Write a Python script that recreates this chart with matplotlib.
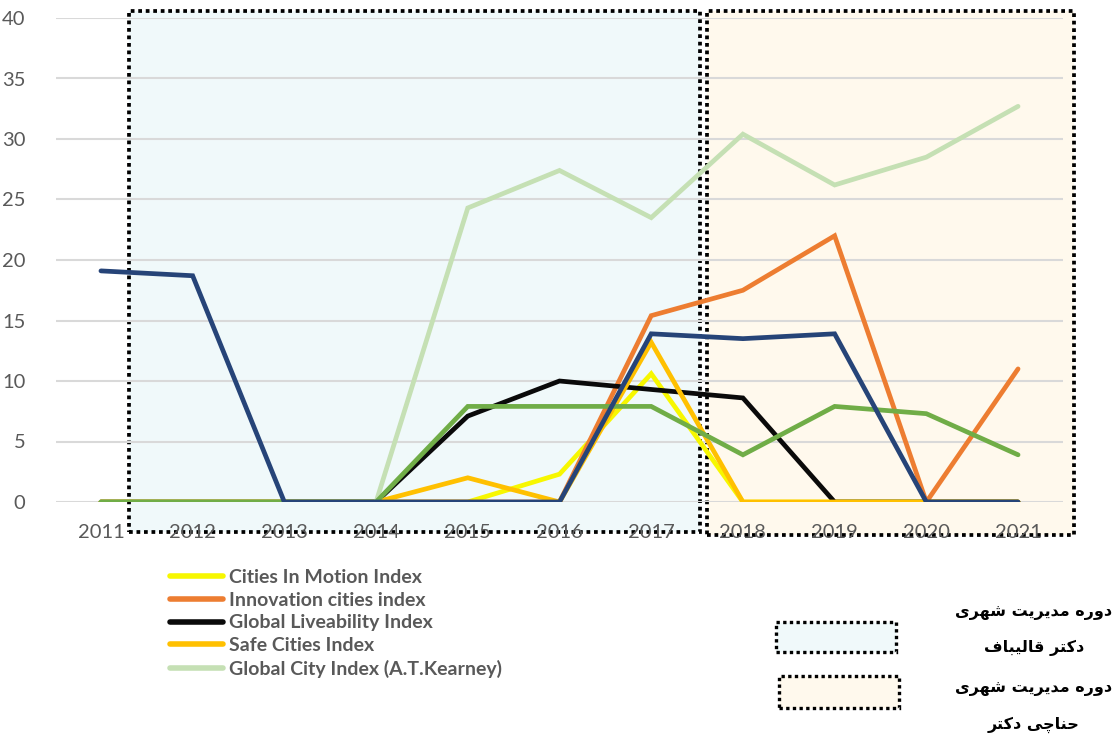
import numpy as np
import matplotlib
matplotlib.use("Agg")
import matplotlib.pyplot as plt
from matplotlib.patches import Rectangle

years = ["2011", "2012", "2013", "2014", "2015", "2016", "2017", "2018", "2019", "2020", "2021"]

cities_in_motion = [0, 0, 0, 0, 0, 2.3, 10.6, 0, 0, 0, 0]
innovation_cities = [0, 0, 0, 0, 0, 0, 15.4, 17.5, 22.0, 0, 11.0]
global_liveability = [0, 0, 0, 0, 7.1, 10.0, 9.3, 8.6, 0, 0, 0]
safe_cities = [0, 0, 0, 0, 2.0, 0, 13.2, 0, 0, 0, 0]
global_city_kearney = [0, 0, 0, 0, 24.3, 27.4, 23.5, 30.4, 26.2, 28.5, 32.7]
unlabeled_green = [0, 0, 0, 0, 7.9, 7.9, 7.9, 3.9, 7.9, 7.3, 3.9]
unlabeled_blue = [19.1, 18.7, 0, 0, 0, 0, 13.9, 13.5, 13.9, 0, 0]

series = [
    ("Cities In Motion Index", cities_in_motion, "#F7F700"),
    ("Innovation cities index", innovation_cities, "#ED7D31"),
    ("Global Liveability Index", global_liveability, "#0A0A0A"),
    ("Safe Cities Index", safe_cities, "#FFC000"),
    ("Global City Index (A.T.Kearney)", global_city_kearney, "#C5E0B4"),
    (None, unlabeled_green, "#70AD47"),
    (None, unlabeled_blue, "#264478"),
]

legend_texts = ["دوره مدیریت شهری", "دکتر قالیباف", "دوره مدیریت شهری", "حناچی دکتر"]

# presentation forms: isolated, final, initial, medial
FORMS = {
    "ا": ("\uFE8D", "\uFE8E", None, None),
    "د": ("\uFEA9", "\uFEAA", None, None),
    "ر": ("\uFEAD", "\uFEAE", None, None),
    "و": ("\uFEED", "\uFEEE", None, None),
    "ه": ("\uFEE9", "\uFEEA", "\uFEEB", "\uFEEC"),
    "م": ("\uFEE1", "\uFEE2", "\uFEE3", "\uFEE4"),
    "ی": ("\uFBFC", "\uFBFD", "\uFBFE", "\uFBFF"),
    "ت": ("\uFE95", "\uFE96", "\uFE97", "\uFE98"),
    "ش": ("\uFEB5", "\uFEB6", "\uFEB7", "\uFEB8"),
    "ک": ("\uFB8E", "\uFB8F", "\uFB90", "\uFB91"),
    "ق": ("\uFED5", "\uFED6", "\uFED7", "\uFED8"),
    "ل": ("\uFEDD", "\uFEDE", "\uFEDF", "\uFEE0"),
    "ب": ("\uFE8F", "\uFE90", "\uFE91", "\uFE92"),
    "ف": ("\uFED1", "\uFED2", "\uFED3", "\uFED4"),
    "ح": ("\uFEA1", "\uFEA2", "\uFEA3", "\uFEA4"),
    "ن": ("\uFEE5", "\uFEE6", "\uFEE7", "\uFEE8"),
    "چ": ("\uFB7A", "\uFB7B", "\uFB7C", "\uFB7D"),
}


def shape_word(word):
    out = []
    for i, ch in enumerate(word):
        iso, fin, ini, med = FORMS[ch]
        prev_joins = i > 0 and FORMS[word[i - 1]][2] is not None
        next_joins = i < len(word) - 1 and ini is not None
        if prev_joins and next_joins:
            out.append(med)
        elif prev_joins:
            out.append(fin)
        elif next_joins:
            out.append(ini)
        else:
            out.append(iso)
    return "".join(reversed(out))


def rtl(text):
    # matplotlib has no bidi, so build the visual order by hand
    return " ".join(reversed([shape_word(w) for w in text.split()]))


plt.rcParams["font.family"] = ["Lato", "DejaVu Sans"]

fig = plt.figure(figsize=(11.15, 7.4), dpi=100)
ax = fig.add_axes([56 / 1115, 238 / 740, 1007 / 1115, 484 / 740])
ax.set_zorder(2)

x = np.arange(len(years))
for label, vals, color in series:
    ax.plot(x, vals, color=color, linewidth=3.4, solid_capstyle="round",
            solid_joinstyle="miter", label=label if label else "_nolegend_", zorder=3)

ax.set_xlim(-0.49, len(years) - 0.51)
ax.set_ylim(0, 40)
ax.set_yticks(np.arange(0, 41, 5))
ax.set_xticks(x)
ax.set_xticklabels(years)
ax.tick_params(axis="both", length=0, labelsize=14.5, labelcolor="#595959")
ax.tick_params(axis="x", pad=16)
ax.tick_params(axis="y", pad=22)
ax.grid(axis="y", color="#D9D9D9", linewidth=1.5)
ax.set_axisbelow(True)
for s in ax.spines.values():
    s.set_visible(False)
ax.patch.set_alpha(0)

# shaded management periods, in figure pixels
def fig_box(x0, y0, x1, y1, fc, lw=2.7):
    r = Rectangle((x0 / 1115, 1 - y1 / 740), (x1 - x0) / 1115, (y1 - y0) / 740,
                  transform=fig.transFigure, facecolor=fc, edgecolor="black",
                  linewidth=lw, linestyle=(0, (1, 1)), zorder=-1)
    fig.patches.append(r)

fig_box(129, 11, 700, 532, "#F0F9FA")
fig_box(707, 11, 1074, 535, "#FFF9ED")
fig_box(776, 622, 896, 652, "#F0F9FA", lw=2.4)
fig_box(779, 676, 899, 708, "#FFF9ED", lw=2.4)

leg = fig.legend(loc="upper left", bbox_to_anchor=(160 / 1115, 1 - 559 / 740),
                 frameon=False, handlelength=2.75, handletextpad=0.3,
                 labelspacing=0.3, borderpad=0, prop={"weight": "bold", "size": 14})
for t in leg.get_texts():
    t.set_color("#595959")
for h in leg.get_lines():
    h.set_linewidth(4)

ys = [613, 648, 689, 725]
for txt, yp in zip(legend_texts, ys):
    fig.text(1034 / 1115, 1 - yp / 740, rtl(txt), ha="center", va="center",
             fontsize=11.5, fontweight="bold", family="DejaVu Sans", color="black")

fig.savefig("out.png", dpi=100)
